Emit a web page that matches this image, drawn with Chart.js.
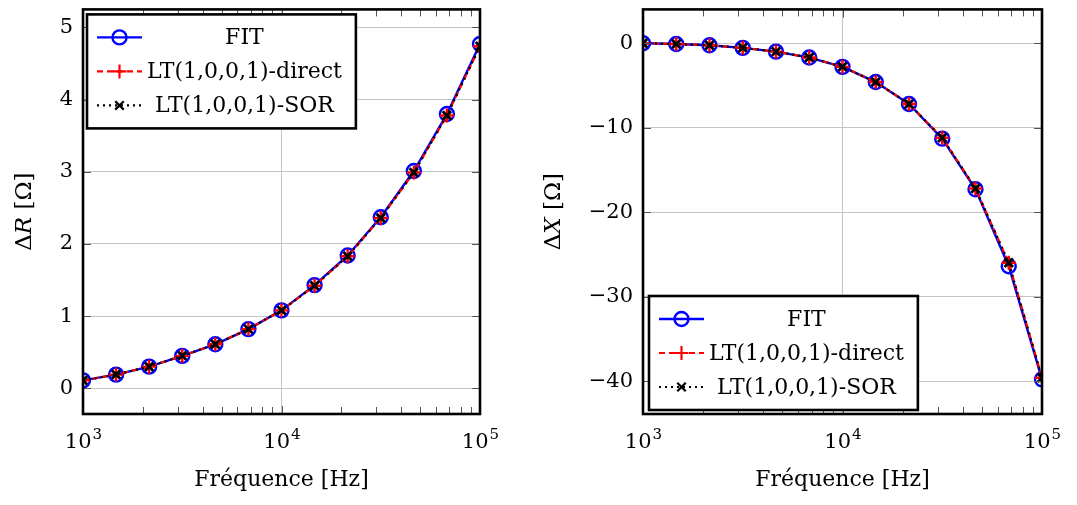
<!DOCTYPE html>
<html>
<head>
<meta charset="utf-8">
<script src="https://cdn.jsdelivr.net/npm/chart.js"></script>
<style>
    html, body { margin: 0; padding: 0; background: #ffffff; }
    #wrap { position: relative; width: 1077px; height: 505px; }
    #leftBox { position: absolute; left: 0; top: 0; width: 540px; height: 505px; }
    #rightBox { position: absolute; left: 540px; top: 0; width: 537px; height: 505px; }
</style>
</head>
<body>
<div id="wrap">
    <div id="leftBox"><canvas id="chartR" width="540" height="505"></canvas></div>
    <div id="rightBox"><canvas id="chartX" width="537" height="505"></canvas></div>
</div>
<script>
// Frequencies (Hz), 6 points per decade
const frequencies = [1000, 1468, 2154, 3162, 4642, 6813, 10000, 14678, 21544, 31623, 46416, 68129, 100000];

// Delta R (Ohm)
const deltaR_fit    = [0.11, 0.19, 0.30, 0.45, 0.61, 0.82, 1.08, 1.43, 1.84, 2.37, 3.01, 3.80, 4.77];
const deltaR_direct = [0.11, 0.19, 0.30, 0.45, 0.61, 0.82, 1.08, 1.42, 1.83, 2.36, 2.99, 3.78, 4.74];
const deltaR_sor    = [0.11, 0.19, 0.30, 0.45, 0.61, 0.82, 1.08, 1.42, 1.83, 2.36, 2.99, 3.78, 4.74];

// Delta X (Ohm)
const deltaX_fit    = [0, -0.1, -0.25, -0.55, -1.0, -1.7, -2.8, -4.6, -7.2, -11.3, -17.3, -26.4, -39.8];
const deltaX_direct = [0, -0.1, -0.25, -0.55, -1.0, -1.7, -2.8, -4.6, -7.2, -11.2, -17.2, -26.0, -39.6];
const deltaX_sor    = [0, -0.1, -0.25, -0.55, -1.0, -1.7, -2.8, -4.6, -7.2, -11.2, -17.2, -26.0, -39.6];

// Tick labels
const xTickValues = [1000, 10000, 100000];
const xTickBase = '10';
const xTickExponents = ['3', '4', '5'];
const yTicksR = [0, 1, 2, 3, 4, 5];
const yTicksX = [-40, -30, -20, -10, 0];

const seriesNames = ['FIT', 'LT(1,0,0,1)-direct', 'LT(1,0,0,1)-SOR'];
const xTitle = 'Fréquence [Hz]';
// [text, italic?]
const yTitleR = [['\u0394', false], ['R', true], [' [\u03A9]', false]];
const yTitleX = [['\u0394', false], ['X', true], [' [\u03A9]', false]];

const FONT_FAMILY = '"DejaVu Serif", "Liberation Serif", serif';
Chart.defaults.color = '#000000';
Chart.defaults.font.family = FONT_FAMILY;

// Frame, inward ticks, x tick labels with exponents, y title and the boxed legend
const pgfFramePlugin = {
    id: 'pgfFrame',
    afterDraw(chart, args, opts) {
        const ctx = chart.ctx;
        const area = chart.chartArea;
        const xs = chart.scales.x;
        const ys = chart.scales.y;
        ctx.save();

        // minor + major ticks on x (bottom and top)
        ctx.strokeStyle = '#555555';
        ctx.lineWidth = 1;
        ctx.setLineDash([]);
        for (let d = 1000; d < 100000; d *= 10) {
            for (let m = 1; m <= 10; m++) {
                const px = Math.round(xs.getPixelForValue(d * m)) + 0.5;
                const len = (m === 1 || m === 10) ? 8 : 7;
                ctx.beginPath();
                ctx.moveTo(px, area.bottom);
                ctx.lineTo(px, area.bottom - len);
                ctx.moveTo(px, area.top);
                ctx.lineTo(px, area.top + len);
                ctx.stroke();
            }
        }
        // major ticks on y (left and right)
        ys.ticks.forEach(t => {
            const py = Math.round(ys.getPixelForValue(t.value)) + 0.5;
            ctx.beginPath();
            ctx.moveTo(area.left, py);
            ctx.lineTo(area.left + 8, py);
            ctx.moveTo(area.right, py);
            ctx.lineTo(area.right - 8, py);
            ctx.stroke();
        });

        // frame
        ctx.strokeStyle = '#000000';
        ctx.lineWidth = 2.6;
        ctx.strokeRect(area.left, area.top, area.right - area.left, area.bottom - area.top);

        // x tick labels: 10 with raised exponent
        ctx.fillStyle = '#000000';
        ctx.textBaseline = 'alphabetic';
        xTickValues.forEach((v, i) => {
            const px = xs.getPixelForValue(v);
            ctx.font = '21px ' + FONT_FAMILY;
            const wb = ctx.measureText(xTickBase).width;
            ctx.font = '15px ' + FONT_FAMILY;
            const we = ctx.measureText(xTickExponents[i]).width;
            const x0 = px - (wb + we) / 2;
            const base = area.bottom + 34;
            ctx.font = '21px ' + FONT_FAMILY;
            ctx.textAlign = 'left';
            ctx.fillText(xTickBase, x0, base);
            ctx.font = '15px ' + FONT_FAMILY;
            ctx.fillText(xTickExponents[i], x0 + wb + 1, base - 9);
        });

        // y title with italic variable, rotated
        ctx.save();
        ctx.translate(opts.yTitleX, (area.top + area.bottom) / 2);
        ctx.rotate(-Math.PI / 2);
        let total = 0;
        opts.yTitle.forEach(([t, it]) => {
            ctx.font = (it ? 'italic ' : '') + '23px ' + FONT_FAMILY;
            total += ctx.measureText(t).width;
        });
        let cx = -total / 2;
        ctx.textBaseline = 'middle';
        ctx.textAlign = 'left';
        opts.yTitle.forEach(([t, it]) => {
            ctx.font = (it ? 'italic ' : '') + '23px ' + FONT_FAMILY;
            ctx.fillText(t, cx, 0);
            cx += ctx.measureText(t).width;
        });
        ctx.restore();

        // legend box
        const font = '22px ' + FONT_FAMILY;
        ctx.font = font;
        const datasets = chart.data.datasets;
        let maxW = 0;
        datasets.forEach(ds => { maxW = Math.max(maxW, ctx.measureText(ds.label).width); });
        const rowH = 34;
        const boxW = 60 + maxW + 14;
        const boxH = rowH * datasets.length + 12;
        const bx = area.left + opts.dx;
        const by = opts.corner === 'nw' ? area.top + opts.dy : area.bottom - opts.dy - boxH;

        ctx.fillStyle = '#ffffff';
        ctx.fillRect(bx, by, boxW, boxH);
        ctx.strokeStyle = '#000000';
        ctx.lineWidth = 2.6;
        ctx.strokeRect(bx, by, boxW, boxH);

        datasets.forEach((ds, i) => {
            const cy = by + 23 + i * rowH;
            const x0 = bx + 10, x1 = bx + 55;
            ctx.strokeStyle = ds.borderColor;
            ctx.lineWidth = ds.borderWidth;
            ctx.setLineDash(ds.borderDash || []);
            ctx.beginPath();
            ctx.moveTo(x0, cy);
            ctx.lineTo(x1, cy);
            ctx.stroke();
            ctx.setLineDash([]);
            ctx.strokeStyle = ds.pointBorderColor;
            ctx.fillStyle = 'rgba(0,0,0,0)';
            Chart.helpers.drawPoint(ctx, {
                pointStyle: ds.pointStyle,
                radius: ds.pointRadius,
                borderWidth: ds.pointBorderWidth,
                rotation: 0
            }, (x0 + x1) / 2, cy);

            ctx.fillStyle = '#000000';
            ctx.font = font;
            ctx.textAlign = 'center';
            ctx.textBaseline = 'middle';
            ctx.fillText(ds.label, bx + 60 + maxW / 2, cy + 1);
        });

        ctx.restore();
    }
};

function buildDatasets(fit, direct, sor) {
    const toPts = vals => frequencies.map((f, i) => ({ x: f, y: vals[i] }));
    return [{
        label: seriesNames[0],
        data: toPts(fit),
        borderColor: '#0000ff',
        borderWidth: 2.4,
        pointStyle: 'circle',
        pointRadius: 7,
        pointBorderWidth: 2.4,
        pointBorderColor: '#0000ff',
        pointBackgroundColor: 'rgba(0,0,0,0)',
        order: 3
    }, {
        label: seriesNames[1],
        data: toPts(direct),
        borderColor: '#ff0000',
        borderWidth: 2.2,
        borderDash: [6, 4],
        pointStyle: 'cross',
        pointRadius: 7,
        pointBorderWidth: 2.4,
        pointBorderColor: '#ff0000',
        pointBackgroundColor: '#ff0000',
        order: 2
    }, {
        label: seriesNames[2],
        data: toPts(sor),
        borderColor: '#000000',
        borderWidth: 2.2,
        borderDash: [2, 4],
        pointStyle: 'crossRot',
        pointRadius: 6,
        pointBorderWidth: 2.8,
        pointBorderColor: '#000000',
        pointBackgroundColor: '#000000',
        order: 1
    }];
}

function makeChart(canvasId, datasets, cfg) {
    const tickFont = { size: 21, family: FONT_FAMILY };
    return new Chart(document.getElementById(canvasId), {
        type: 'line',
        data: { datasets: datasets },
        plugins: [pgfFramePlugin],
        options: {
            responsive: false,
            animation: false,
            devicePixelRatio: 1,
            events: [],
            layout: { padding: { left: 0, right: cfg.padRight, top: 5, bottom: 0 } },
            elements: { line: { tension: 0, fill: false } },
            plugins: {
                legend: { display: false },
                tooltip: { enabled: false },
                pgfFrame: {
                    corner: cfg.corner, dx: cfg.legendDx, dy: cfg.legendDy,
                    yTitle: cfg.yTitle, yTitleX: cfg.yTitleX
                }
            },
            scales: {
                x: {
                    type: 'logarithmic',
                    min: 1000,
                    max: 100000,
                    afterBuildTicks: s => { s.ticks = xTickValues.map(v => ({ value: v })); },
                    afterFit: s => { s.height = 91; s.paddingLeft = 0; s.paddingRight = 0; },
                    ticks: { display: false },
                    grid: { color: '#c4c4c4', lineWidth: 1, drawTicks: false },
                    border: { display: false },
                    title: {
                        display: true,
                        text: xTitle,
                        font: { size: 22, family: FONT_FAMILY },
                        color: '#000000',
                        padding: { top: 0, bottom: 12 }
                    }
                },
                y: {
                    type: 'linear',
                    min: cfg.yMin,
                    max: cfg.yMax,
                    afterBuildTicks: s => { s.ticks = cfg.yTicks.map(v => ({ value: v })); },
                    afterFit: s => { s.width = cfg.yAxisWidth; s.paddingTop = 0; s.paddingBottom = 0; },
                    ticks: {
                        padding: 10,
                        font: tickFont,
                        color: '#000000',
                        callback: v => (v < 0 ? '\u2212' + Math.abs(v) : String(v))
                    },
                    grid: { color: '#c4c4c4', lineWidth: 1, drawTicks: false },
                    border: { display: false },
                    title: { display: false }
                }
            }
        }
    });
}

makeChart('chartR', buildDatasets(deltaR_fit, deltaR_direct, deltaR_sor), {
    yMin: -0.356, yMax: 5.25, yTicks: yTicksR, yTitle: yTitleR, yTitleX: 25,
    yAxisWidth: 83, padRight: 60,
    corner: 'nw', legendDx: 4, legendDy: 5
});

makeChart('chartX', buildDatasets(deltaX_fit, deltaX_direct, deltaX_sor), {
    yMin: -43.9, yMax: 4.0, yTicks: yTicksX, yTitle: yTitleX, yTitleX: 14,
    yAxisWidth: 103, padRight: 35,
    corner: 'sw', legendDx: 6, legendDy: 4
});
</script>
</body>
</html>
